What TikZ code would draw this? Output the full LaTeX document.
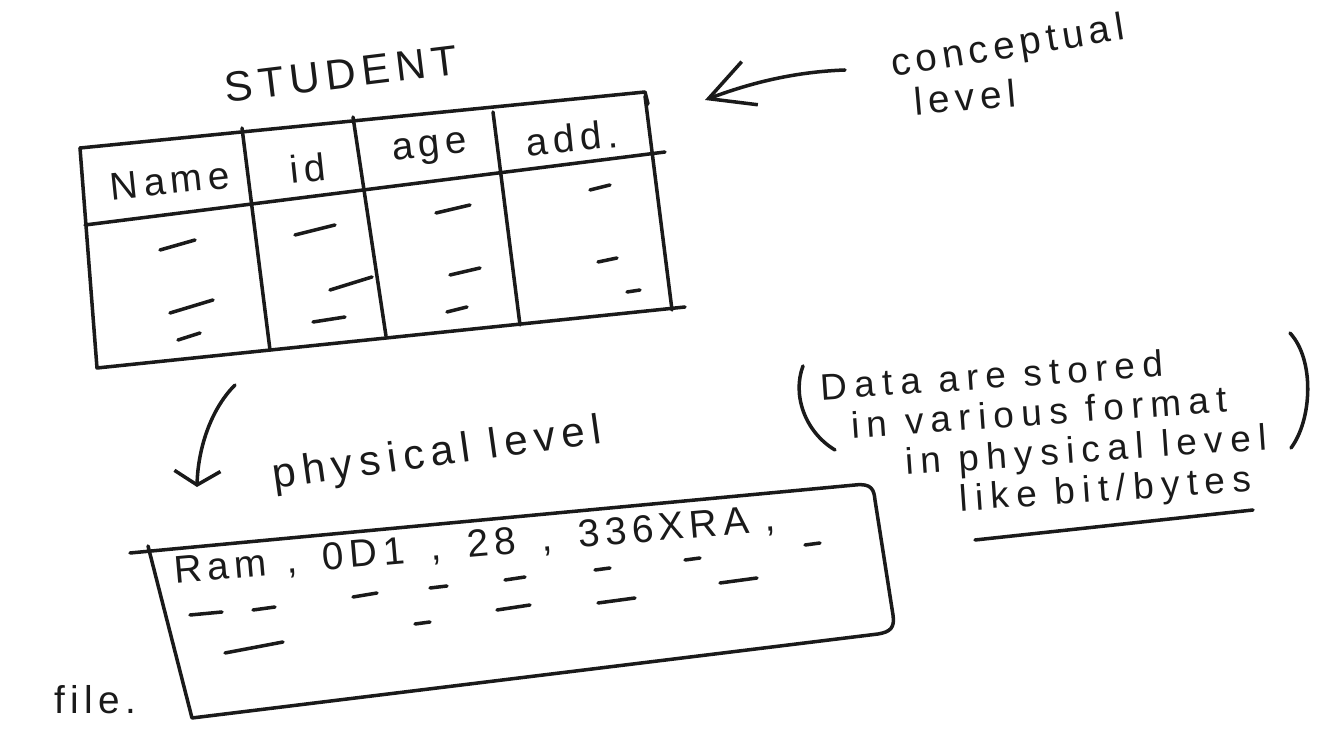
\documentclass[tikz,border=0pt]{standalone}
\usepackage{fontspec}
\setmainfont{Liberation Sans}
\usetikzlibrary{arrows.meta}

\begin{document}
\begin{tikzpicture}[x=0.01cm, y=-0.01cm, line width=1pt, line cap=round, line join=round,
    hand/.style={font=\fontsize{11}{13}\selectfont\addfontfeature{LetterSpace=14}, inner sep=0pt, text=inkColour},
    barb/.style={-{Straight Barb[length=4.4mm, width=4.6mm, line width=1pt]}}]
    % Define colours
    \definecolor{inkColour}{HTML}{1A1A1A}

    % Fix the picture size
    \useasboundingbox (0,0) rectangle (1335,752);

    % Define coordinates for the table
    \coordinate (tl) at (80,148);
    \coordinate (tr) at (645,92);
    \coordinate (bl) at (97,368);
    \coordinate (br) at (685,307);

    % Draw the table
    \draw[inkColour] (tl) -- (tr) -- (648,104);
    \draw[inkColour] (tl) -- (bl) -- (br);
    \draw[inkColour] (645,96) -- (672,310);
    \draw[inkColour] (85,225) -- (665,152);
    \draw[inkColour] (242,128) -- (270,350);
    \draw[inkColour] (353,117) -- (386,336);
    \draw[inkColour] (493,112) -- (520,325);

    % Table title and header
    \node[hand, rotate=7, font=\fontsize{12}{14}\selectfont\addfontfeature{LetterSpace=14}] (student) at (341,74) {STUDENT};
    \node[hand, rotate=6] (name) at (170,181) {Name};
    \node[hand, rotate=6] (id) at (308,168) {id};
    \node[hand, rotate=6] (age) at (430,150) {age};
    \node[hand, rotate=6] (add) at (572,138) {add.};

    % Draw the dashes in the table cells
    \foreach \a/\b/\c/\d in {160/250/195/240, 170/313/213/300, 178/340/200/333,
                             295/235/335/225, 330/290/372/277, 313/322/345/317,
                             436/213/470/205, 450/275/480/268, 447/312/467/307,
                             590/190/610/185, 598/262/617/258, 627/292/640/290}
        \draw[inkColour] (\a,\b) -- (\c,\d);

    % Conceptual level label and arrow
    \node[hand, rotate=9] (concept) at (1008,48) {conceptual};
    \node[hand, rotate=5] (conlevel) at (965,97) {level};
    \coordinate (cstart) at (845,70);
    \coordinate (ctip) at (705,100);
    \draw[inkColour, barb] (cstart) .. controls (790,72) and (745,85) .. (ctip);

    % Physical level label and arrow
    \node[hand, rotate=8, font=\fontsize{12}{14}\selectfont\addfontfeature{LetterSpace=16}] (physical) at (437,455) {physical level};
    \coordinate (pstart) at (235,385);
    \coordinate (ptip) at (197,487);
    \draw[inkColour, -{Straight Barb[length=1.4mm, width=4.6mm, line width=1pt]}]
        (pstart) .. controls (210,410) and (198,450) .. (ptip);

    % Draw the physical record box
    \draw[inkColour] (130,553) -- (855,485) .. controls (872,483) and (874,490) .. (875,500)
        -- (893,615) .. controls (895,628) and (890,632) .. (878,634) -- (192,718) -- (148,546);

    % Record text
    \node[hand, rotate=5] (record) at (475,546) {Ram\hspace{2mm}, \hspace{1mm}0D1\hspace{1mm} , \hspace{1mm}28\hspace{1mm} , \hspace{1mm}336XRA ,};

    % Draw the dashes in the box
    \foreach \a/\b/\c/\d in {805/545/820/543, 190/615/222/612, 253/610/275/607,
                             353/597/377/593, 430/588/447/586, 505/580/525/577,
                             595/570/610/568, 685/560/700/558, 720/583/757/578,
                             598/603/635/598, 497/610/530/605, 415/624/430/622,
                             225/653/283/642}
        \draw[inkColour] (\a,\b) -- (\c,\d);

    % Note on the right
    \node[hand, rotate=4, anchor=north west, align=left,
          font=\fontsize{10.5}{11.4}\selectfont\addfontfeature{LetterSpace=20}] (note) at (818,372)
        {Data are stored\\\hspace{2.8mm}in various format\\\hspace{7.9mm}in physical level\\\hspace{13.1mm}like bit/bytes};
    \draw[inkColour] (803,366) .. controls (792,395) and (805,432) .. (835,450);
    \draw[inkColour] (1290,333) .. controls (1315,360) and (1312,420) .. (1291,448);
    \draw[inkColour] (975,540) -- (1253,510);

    % File label
    \node[hand] (file) at (95,700) {file.};

\end{tikzpicture}
\end{document}
